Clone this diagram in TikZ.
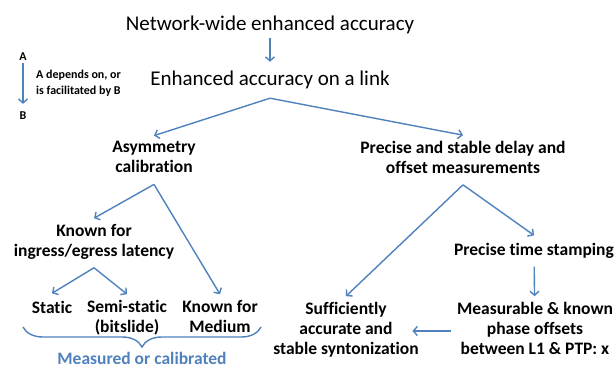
\documentclass[tikz,border=0pt]{standalone}
\usepackage{fontspec}
\setmainfont{Carlito}[Ligatures=NoCommon]
\usepackage{tikz}
\usetikzlibrary{arrows.meta, positioning, decorations.pathreplacing}
\definecolor{linkblue}{HTML}{4F81BD}

\begin{document}
\begin{tikzpicture}[
    x=1pt, y=-1pt,
    big/.style={font=\fontsize{21}{25}\selectfont, inner sep=4pt},
    item/.style={font=\bfseries\fontsize{17.5}{20}\selectfont, align=center, inner sep=5.5pt,
        execute at begin node=\strut, execute at end node=\strut},
    letter/.style={font=\bfseries\fontsize{12}{16}\selectfont, inner sep=2pt},
    arr/.style={draw=linkblue, line width=1.4pt, -{Straight Barb[length=4pt, width=9pt, line width=1.4pt]}}
]
    \useasboundingbox (0,0) rectangle (616,369);

    % Top level
    \node (network) [big] at (270,25) {Network-wide enhanced accuracy};
    \node (link) [big, minimum height=36pt] at (270,80) {Enhanced accuracy on a link};

    % Legend
    \node (legA) [letter] at (23,57) {A};
    \node (legB) [letter] at (23,116) {B};
    \node (legtext) [letter, anchor=west, align=left] at (34,83) {A depends on, or\\is facilitated by B};

    % Left branch
    \node (asym) [item] at (154,160) {Asymmetry\\calibration};
    \node (ingress) [item] at (94,243) {Known for\\ingress/egress latency};
    \node (static) [item] at (52,309) {Static};
    \node (semi) [item] at (127,319) {Semi-static\\(bitslide)};
    \node (medium) [item] at (220,319) {Known for\\Medium};

    % Right branch
    \node (precise) [item] at (463,160) {Precise and stable delay and\\offset measurements};
    \node (stamp) [item] at (534,251) {Precise time stamping};
    \node (phase) [item] at (535,331) {Measurable \& known\\phase offsets\\between L1 \& PTP: x};
    \node (synt) [item] at (346,331) {Sufficiently\\accurate and\\stable syntonization};

    % Brace
    \coordinate (braceL) at (23,327);
    \coordinate (braceR) at (261,327);
    \node (calib) [font=\bfseries\fontsize{17.5}{20}\selectfont, text=linkblue, anchor=base] at (142,364) {Measured or calibrated};

    % Paths
    \draw[arr] (network) -- (link);
    \draw[arr, shorten >=6pt] (legA) -- (legB);
    \draw[arr] (link.south) -- (asym.north);
    \draw[arr] (link.south) -- (precise.north);
    \draw[arr] (asym.south) -- (ingress.north);
    \draw[arr] (asym.south) -- (medium.north);
    \draw[arr] (ingress.south) -- (static.north);
    \draw[arr] (ingress.south) -- (semi.north);
    \draw[arr] (precise.south) -- (synt.north);
    \draw[arr] (precise.south) -- (stamp.north);
    \draw[arr] (stamp) -- (phase);
    \draw[arr] (phase.west) -- ([xshift=-12pt]synt.east |- phase.west);
    \draw[linkblue, line width=1.4pt, decorate, decoration={brace, mirror, amplitude=20pt}] (braceL) -- (braceR);
\end{tikzpicture}
\end{document}
